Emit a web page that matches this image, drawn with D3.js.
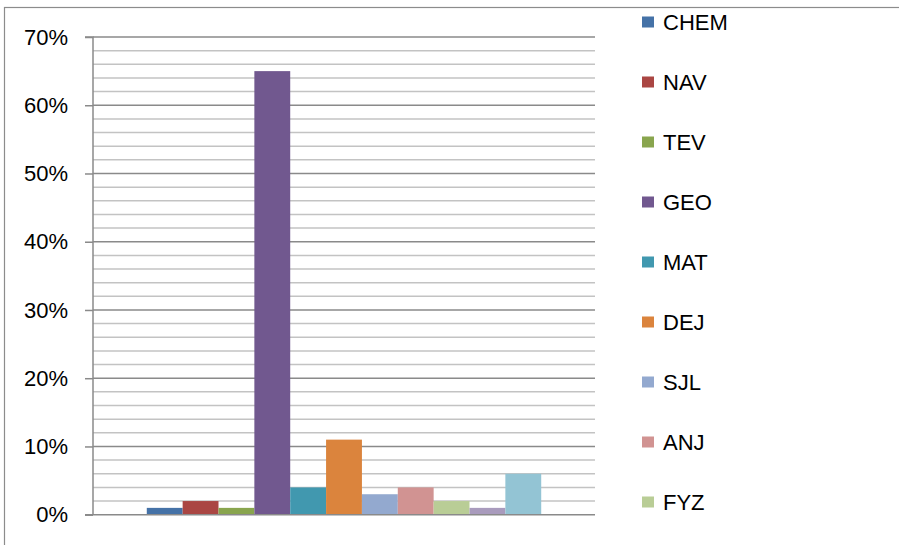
<!DOCTYPE html>
<html>
<head>
<meta charset="utf-8">
<script src="https://cdn.jsdelivr.net/npm/d3@7"></script>
<style>
  html, body { margin: 0; padding: 0; background: #fff; }
  svg { display: block; font-family: "Liberation Sans", Arial, sans-serif; }
</style>
</head>
<body>
<div id="chart"></div>
<script>
// series names (last two are cut off in the legend)
const subjects = ['CHEM', 'NAV', 'TEV', 'GEO', 'MAT', 'DEJ', 'SJL', 'ANJ', 'FYZ', 'BIO', 'INF'];
// share of answers, percent
const shares = [1, 2, 1, 65, 4, 11, 3, 4, 2, 1, 6];
const colors = ['#4572A7', '#AA4643', '#89A54E', '#71588F', '#4198AF', '#DB843D',
                '#93A9CF', '#D19392', '#B9CD96', '#A99BBD', '#93C4D4'];
const majorTicks = [0, 10, 20, 30, 40, 50, 60, 70];
const minorTicks = d3.range(0, 71, 2);

const width = 899, height = 545;
const plot = { left: 93, right: 595, top: 37, bottom: 514.7 };

const svg = d3.select('#chart')
    .append('svg')
    .attr('width', width)
    .attr('height', height);

// chart area border (runs off the right and bottom edges)
svg.append('rect')
    .attr('x', 4.5)
    .attr('y', 7.5)
    .attr('width', width + 10)
    .attr('height', height + 10)
    .attr('fill', 'none')
    .attr('stroke', '#8c8c8c')
    .attr('stroke-width', 1.2);

const y = d3.scaleLinear()
    .domain([0, 70])
    .range([plot.bottom, plot.top]);

const x = d3.scaleBand()
    .domain(subjects)
    .range([plot.left, plot.right])
    .paddingInner(0)
    .paddingOuter(1.5);

// minor gridlines
svg.append('g')
    .selectAll('line')
    .data(minorTicks.filter(t => t % 10 !== 0))
    .join('line')
    .attr('x1', plot.left)
    .attr('x2', plot.right)
    .attr('y1', d => y(d))
    .attr('y2', d => y(d))
    .attr('stroke', '#c3c3c3')
    .attr('stroke-width', 1.5);

// major gridlines
svg.append('g')
    .selectAll('line')
    .data(majorTicks.filter(t => t > 0))
    .join('line')
    .attr('x1', plot.left)
    .attr('x2', plot.right)
    .attr('y1', d => y(d))
    .attr('y2', d => y(d))
    .attr('stroke', '#8a8a8a')
    .attr('stroke-width', 1.5);

// bars
svg.append('g')
    .selectAll('rect')
    .data(subjects)
    .join('rect')
    .attr('x', d => x(d))
    .attr('y', (d, i) => y(shares[i]))
    .attr('width', x.bandwidth())
    .attr('height', (d, i) => y(0) - y(shares[i]))
    .attr('fill', (d, i) => colors[i]);

// y axis
const yAxis = d3.axisLeft(y)
    .tickValues(majorTicks)
    .tickSize(8)
    .tickPadding(17)
    .tickFormat(d => d + '%');

const yg = svg.append('g')
    .attr('transform', `translate(${plot.left},0)`)
    .call(yAxis);
yg.select('.domain').attr('stroke', '#8a8a8a').attr('stroke-width', 1.5)
    .attr('d', `M-8,${plot.top}H0V${plot.bottom}`);
yg.selectAll('.tick line').attr('stroke', '#8a8a8a').attr('stroke-width', 1.5);
yg.selectAll('.tick text')
    .attr('fill', '#000')
    .style('font-size', '22px')
    .style('font-family', '"Liberation Sans", Arial, sans-serif');

// x axis baseline
svg.append('line')
    .attr('x1', plot.left - 8)
    .attr('x2', plot.right)
    .attr('y1', y(0))
    .attr('y2', y(0))
    .attr('stroke', '#8a8a8a')
    .attr('stroke-width', 1.5);

// legend
const legendTop = 22, legendStep = 60;
const items = subjects
    .map((s, i) => ({ name: s, color: colors[i], cy: legendTop + i * legendStep }))
    .filter(d => d.cy < height);

const legend = svg.append('g');
const item = legend.selectAll('g')
    .data(items)
    .join('g')
    .attr('transform', d => `translate(642,${d.cy})`);

item.append('rect')
    .attr('x', 0)
    .attr('y', -5.5)
    .attr('width', 12)
    .attr('height', 11)
    .attr('fill', d => d.color);

item.append('text')
    .attr('x', 21)
    .attr('y', 0)
    .attr('dy', '0.36em')
    .style('font-size', '22px')
    .text(d => d.name);
</script>
</body>
</html>
